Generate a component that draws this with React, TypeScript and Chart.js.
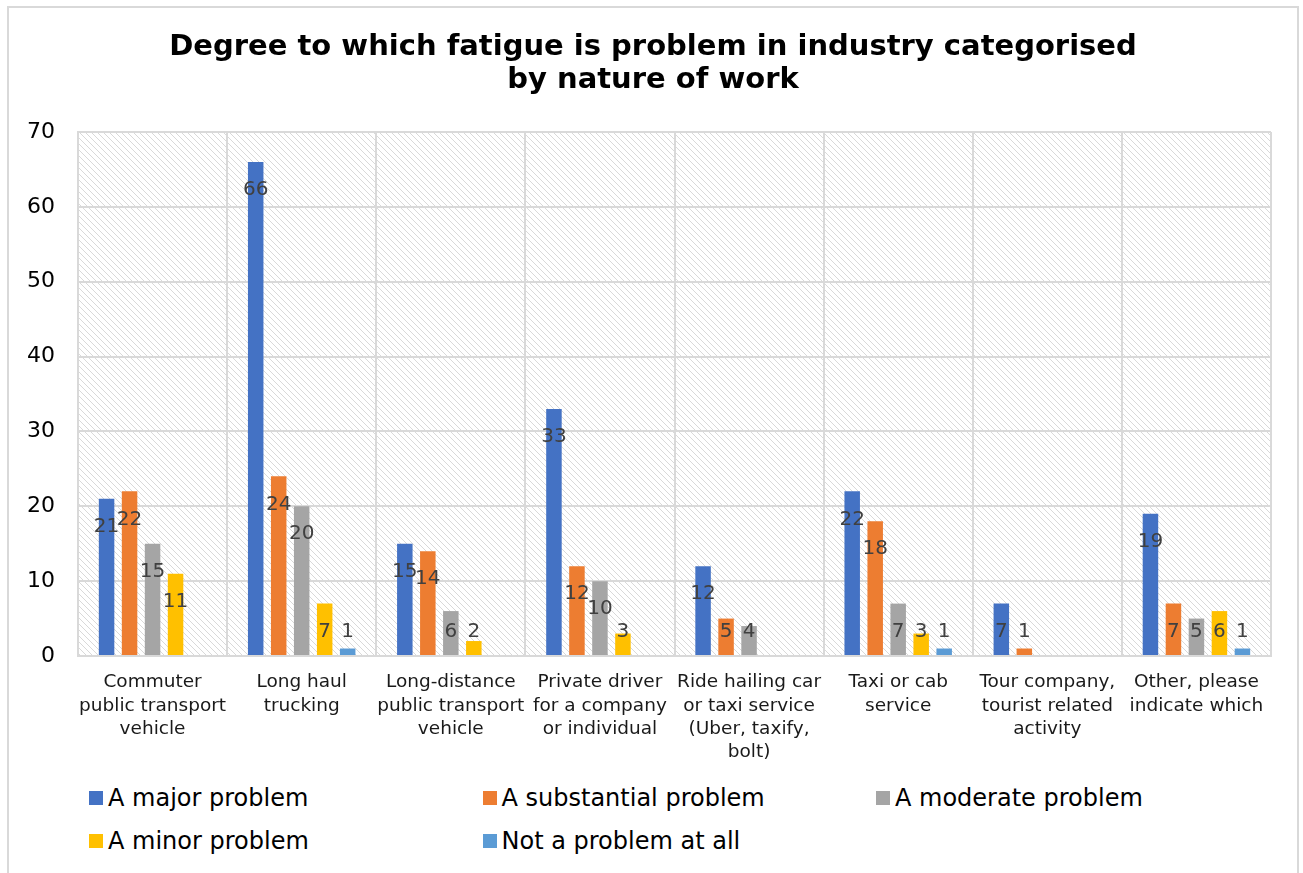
import React, { useEffect, useRef } from 'react';
import { Chart, registerables } from 'chart.js';

Chart.register(...registerables);

const categories: string[][] = [
  ['Commuter', 'public transport', 'vehicle'],
  ['Long haul', 'trucking'],
  ['Long-distance', 'public transport', 'vehicle'],
  ['Private driver', 'for a company', 'or individual'],
  ['Ride hailing car', 'or taxi service', '(Uber, taxify,', 'bolt)'],
  ['Taxi or cab', 'service'],
  ['Tour company,', 'tourist related', 'activity'],
  ['Other, please', 'indicate which'],
];

const seriesNames = [
  'A major problem',
  'A substantial problem',
  'A moderate problem',
  'A minor problem',
  'Not a problem at all',
];

const seriesColors = ['#4472C4', '#ED7D31', '#A5A5A5', '#FFC000', '#5B9BD5'];

const majorValues = [21, 66, 15, 33, 12, 22, 7, 19];
const substantialValues = [22, 24, 14, 12, 5, 18, 1, 7];
const moderateValues = [15, 20, 6, 10, 4, 7, null, 5];
const minorValues = [11, 7, 2, 3, null, 3, null, 6];
const notProblemValues = [null, 1, null, null, null, 1, null, 1];

const yMin = 0;
const yMax = 70;
const yStep = 10;

const titleLines = [
  'Degree to which fatigue is problem in industry categorised',
  'by nature of work',
];

const FONT = '"DejaVu Sans", Verdana, sans-serif';
const CANVAS_W = 1288;
const CANVAS_H = 770;

const hatchPlugin = {
  id: 'hatchBg',
  beforeDraw(chart: any) {
    const { ctx, chartArea: a } = chart;
    if (!a) return;
    const s = 6;
    const tile = document.createElement('canvas');
    tile.width = s;
    tile.height = s;
    const t = tile.getContext('2d') as CanvasRenderingContext2D;
    t.fillStyle = '#ffffff';
    t.fillRect(0, 0, s, s);
    t.strokeStyle = '#d9d9d9';
    t.lineWidth = 1;
    t.beginPath();
    t.moveTo(-1, -1);
    t.lineTo(s + 1, s + 1);
    t.stroke();
    t.beginPath();
    t.moveTo(s - 1, -1);
    t.lineTo(s + 1, 1);
    t.stroke();
    t.beginPath();
    t.moveTo(-1, s - 1);
    t.lineTo(1, s + 1);
    t.stroke();
    const pat = ctx.createPattern(tile, 'repeat');
    ctx.save();
    ctx.fillStyle = pat;
    ctx.fillRect(a.left, a.top, a.right - a.left, a.bottom - a.top);
    ctx.restore();
  },
};

const titlePlugin = {
  id: 'centredTitle',
  afterDraw(chart: any) {
    const ctx = chart.ctx;
    ctx.save();
    ctx.font = `bold 29px ${FONT}`;
    ctx.fillStyle = '#000000';
    ctx.textAlign = 'center';
    ctx.textBaseline = 'middle';
    titleLines.forEach((line, i) => {
      ctx.fillText(line, CANVAS_W / 2, 39 + i * 33);
    });
    ctx.restore();
  },
};

const labelPlugin = {
  id: 'barLabels',
  afterDatasetsDraw(chart: any) {
    const ctx = chart.ctx;
    const base = chart.scales.y.getPixelForValue(0);
    ctx.save();
    ctx.font = `20px ${FONT}`;
    ctx.fillStyle = '#404040';
    ctx.textAlign = 'center';
    ctx.textBaseline = 'middle';
    chart.data.datasets.forEach((ds: any, i: number) => {
      const meta = chart.getDatasetMeta(i);
      meta.data.forEach((bar: any, j: number) => {
        const v = ds.data[j];
        if (v == null) return;
        const y = Math.min(bar.y + 28, base - 24);
        ctx.fillText(String(v), bar.x, y);
      });
    });
    ctx.restore();
  },
};

export default function App() {
  const ref = useRef<HTMLCanvasElement | null>(null);

  useEffect(() => {
    document.body.style.margin = '0';
    document.body.style.overflow = 'hidden';
    const canvas = ref.current;
    if (!canvas) return;
    const allSeries = [majorValues, substantialValues, moderateValues, minorValues, notProblemValues];
    const chart = new Chart(canvas, {
      type: 'bar',
      data: {
        labels: categories,
        datasets: allSeries.map((d, i) => ({
          label: seriesNames[i],
          data: d,
          backgroundColor: seriesColors[i],
          borderWidth: 0,
          categoryPercentage: 0.771,
          barPercentage: 0.674,
        })),
      },
      options: {
        responsive: false,
        animation: false,
        layout: { padding: { left: 0, right: 26, top: 124, bottom: 0 } },
        plugins: {
          legend: { display: false },
          tooltip: { enabled: false },
          title: { display: false },
        },
        scales: {
          x: {
            grid: { color: '#d9d9d9', lineWidth: 2, drawTicks: false, offset: true },
            border: { color: '#d9d9d9', width: 2 },
            ticks: {
              color: '#1a1a1a',
              font: { family: FONT, size: 18.5, lineHeight: 1.25 },
              padding: 15,
              maxRotation: 0,
              minRotation: 0,
              autoSkip: false,
            },
            afterFit(scale: any) {
              scale.height = CANVAS_H - 648;
            },
          },
          y: {
            min: yMin,
            max: yMax,
            grid: { color: '#d9d9d9', lineWidth: 2, drawTicks: false },
            border: { color: '#d9d9d9', width: 2 },
            ticks: {
              stepSize: yStep,
              color: '#000000',
              font: { family: FONT, size: 22 },
              padding: 23,
            },
            afterFit(scale: any) {
              scale.width = 69;
            },
          },
        },
      },
      plugins: [hatchPlugin, labelPlugin, titlePlugin],
    });
    return () => chart.destroy();
  }, []);

  const legendRows = [
    [0, 1, 2],
    [3, 4],
  ];

  return (
    <div
      style={{
        position: 'fixed',
        left: 7,
        top: 6,
        width: 1292,
        height: 900,
        border: '2px solid #d9d9d9',
        boxSizing: 'border-box',
        background: '#ffffff',
      }}
    >
      <canvas ref={ref} width={CANVAS_W} height={CANVAS_H} style={{ position: 'absolute', left: 0, top: 0 }} />
      {legendRows.map((row, r) =>
        row.map((idx, c) => (
          <div
            key={idx}
            style={{
              position: 'absolute',
              left: 80 + c * 393.5,
              top: (r === 0 ? 790 : 833) - 8 - 6,
              height: 28,
              display: 'flex',
              alignItems: 'center',
              fontFamily: FONT,
              fontSize: 24,
              color: '#000000',
              whiteSpace: 'nowrap',
            }}
          >
            <span style={{ display: 'inline-block', width: 14, height: 14, background: seriesColors[idx], marginRight: 5 }} />
            <span>{seriesNames[idx]}</span>
          </div>
        ))
      )}
    </div>
  );
}
